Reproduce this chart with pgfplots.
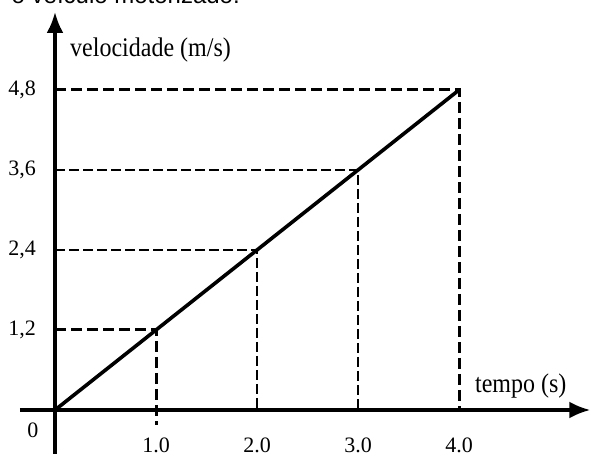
\documentclass[border=0pt]{standalone}
\usepackage{fontspec}
\setmainfont{Liberation Serif}
\newfontfamily\arial{Liberation Sans}
\usepackage{pgfplots}
\pgfplotsset{compat=1.18}
\usetikzlibrary{arrows.meta}
\newcommand\tickfont{\fontsize{22}{26}\selectfont}
\begin{document}
\begin{tikzpicture}
\useasboundingbox (0,0) rectangle (592pt,453pt);
\clip (0,0) rectangle (592pt,453pt);
\node[anchor=base east, inner sep=0pt, font=\arial\fontsize{24}{28}\selectfont] at (240pt,449pt) {o veículo motorizado.};
\begin{axis}[
  at={(55pt,43pt)}, anchor=origin,
  x=101pt, y=66.667pt,
  xmin=-0.347, xmax=5.3, ymin=-0.66, ymax=5.97,
  axis lines=middle,
  clip=false,
  axis line style={line width=3.3pt, -{Latex[length=21pt,width=17pt]}},
  major tick length=0pt,
  xtick={1,2,3,4}, xticklabels={1.0,2.0,3.0,4.0},
  ytick={1.2,2.4,3.6,4.8}, yticklabels={{1,2},{2,4},{3,6},{4,8}},
  /pgf/number format/assume math mode=true,
  tick label style={font=\tickfont, inner sep=0pt},
  xticklabel style={anchor=north, yshift=-28pt},
  yticklabel style={anchor=east, xshift=-19pt},
]
% thick dashed guides
\addplot[black, line width=3pt, dash pattern=on 11pt off 5pt] coordinates {(0,4.8) (4,4.8) (4,0)};
\addplot[black, line width=3pt, dash pattern=on 11pt off 5pt] coordinates {(0,1.2) (1,1.2) (1,-0.225)};
% thin dashed guides
\addplot[black, line width=1.6pt, dash pattern=on 10pt off 4pt] coordinates {(0,3.6) (3,3.6) (3,0)};
\addplot[black, line width=1.6pt, dash pattern=on 10pt off 4pt] coordinates {(0,2.4) (2,2.4) (2,0)};
% velocity line
\addplot[black, line width=3.6pt] coordinates {(0,0) (4,4.8)};
\node[anchor=base west, inner sep=0pt, font=\fontsize{24}{28}\selectfont, yscale=1.12] at (axis cs:0.149,5.295) {velocidade (m/s)};
\node[anchor=base west, inner sep=0pt, font=\fontsize{24}{28}\selectfont, yscale=1.12] at (axis cs:4.158,0.255) {tempo (s)};
\node[inner sep=0pt, font=\tickfont] at (axis cs:-0.218,-0.3) {0};
\end{axis}
\end{tikzpicture}
\end{document}
